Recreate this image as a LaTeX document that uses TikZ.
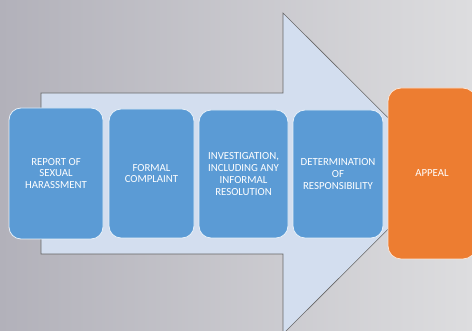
\documentclass[tikz,border=0pt]{standalone}
\usepackage{fontspec}
\setmainfont{Carlito}
\definecolor{bgL}{RGB}{178,177,186}
\definecolor{bgR}{RGB}{221,221,223}
\definecolor{arrowfill}{RGB}{211,222,239}
\definecolor{stepblue}{RGB}{91,155,213}
\definecolor{steporange}{RGB}{237,125,49}
\tikzset{
  stepbox/.style={draw=white!85!stepblue, line width=0.8pt, fill=stepblue, rounded corners=12pt,
    text=white, align=center, font=\fontsize{10.8}{11.7}\selectfont, inner sep=0pt},
  appealbox/.style={draw=white!80!steporange, line width=0.8pt, fill=steporange, rounded corners=13pt,
    text=white, align=center, font=\fontsize{10.8}{11.7}\selectfont, inner sep=0pt},
}
\begin{document}
\begin{tikzpicture}[x=1pt,y=-1pt]
\useasboundingbox (0,0) rectangle (472,331);
\shade[left color=bgL, right color=bgR] (0,0) rectangle (472,331);
% big arrow
\draw[fill=arrowfill, draw=black!60, line width=0.6pt]
  (41,93) -- (283,93) -- (283,13) -- (444,173.5) -- (283,334) -- (283,254) -- (41,254) -- cycle;
% step boxes
\node (s1) [stepbox, minimum width=94pt, minimum height=131pt] at (56,173.5) {REPORT OF\\SEXUAL\\HARASSMENT};
\node (s2) [stepbox, minimum width=85pt, minimum height=129pt] at (151.5,173.5) {FORMAL\\COMPLAINT};
\node (s3) [stepbox, minimum width=89pt, minimum height=128pt] at (243.5,174) {INVESTIGATION,\\INCLUDING ANY\\INFORMAL\\RESOLUTION};
\node (s4) [stepbox, minimum width=90pt, minimum height=128pt] at (338,174) {DETERMINATION\\OF\\RESPONSIBILITY};
\node (s5) [appealbox, minimum width=88pt, minimum height=171pt] at (432,173.5) {APPEAL};
\end{tikzpicture}
\end{document}
